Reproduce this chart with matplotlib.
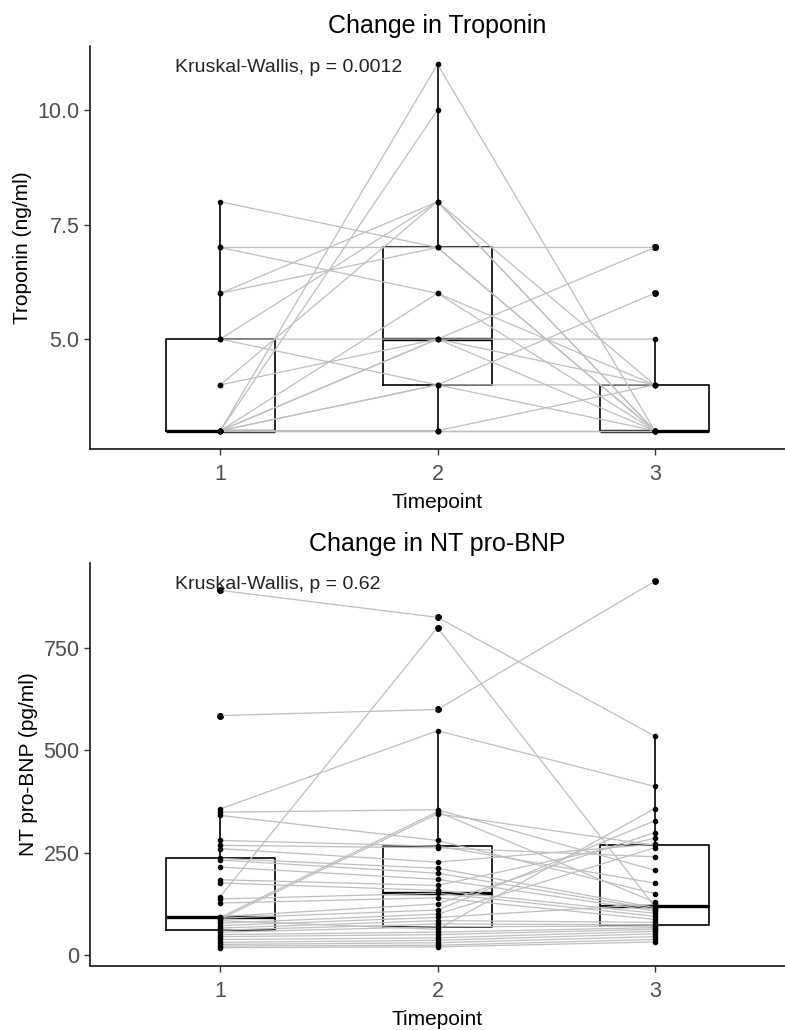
import numpy as np
import matplotlib
matplotlib.use("Agg")
import matplotlib.pyplot as plt

plt.rcParams['font.family'] = ['Liberation Sans', 'DejaVu Sans']

timepoints = [1, 2, 3]
tick_labels = ["1", "2", "3"]

# Troponin (ng/ml), one entry per subject
trop_t1 = [3, 3, 8, 7, 7, 6, 6, 5, 5, 4, 4, 3, 3, 3, 3, 3, 3, 3, 5, 3, 3]
trop_t2 = [11, 10, 7, 7, 6, 8, 7, 4, 8, 5, 8, 5, 6, 4, 3, 5, 4, 3, 5, 3, 3]
trop_t3 = [3, np.nan, 3, 7, 4, 4, 3, 6, 3, 5, 3, 7, 3, 4, 3, 3, 3, 4, 4, 3, 3]

# NT pro-BNP (pg/ml), one entry per subject
bnp_t1 = [891, 585, 143, 357, 349, 341, 92, 88, 280, 268, 260, 236, 232, 215, 184, 176, 137, 127, 94,
          90, 84, 78, 72, 66, 61, 56, 50, 45, 38, 31, 26, 22, 18]
bnp_t2 = [825, 600, 800, 548, 355, 280, 350, 345, 266, 262, 227, 212, 200, 185, 170, 158, 151, 140, 125,
          110, 63, 100, 92, 84, 76, 69, 56, 50, 42, 36, 30, 24, 20]
bnp_t3 = [535, 913, 119, 412, 207, 150, 129, 268, 176, 240, 271, 116, 112, 108, 285, 102, 95, 87, 299,
          328, 358, 262, 124, 80, 74, 71, 67, 63, 58, 52, 45, 38, 32]

panels = [
    dict(title="Change in Troponin", ylabel="Troponin (ng/ml)", data=[trop_t1, trop_t2, trop_t3],
         yticks=[5.0, 7.5, 10.0], fmt="{:.1f}", label="Kruskal-Wallis, p = 0.0012"),
    dict(title="Change in NT pro-BNP", ylabel="NT pro-BNP (pg/ml)", data=[bnp_t1, bnp_t2, bnp_t3],
         yticks=[0, 250, 500, 750], fmt="{:.0f}", label="Kruskal-Wallis, p = 0.62"),
]

W, H = 785, 1030
fig = plt.figure(figsize=(W / 100, H / 100), dpi=100)
rects = [
    [90 / W, 1 - 449 / H, (W - 90) / W, 403 / H],
    [90 / W, 1 - 966 / H, (W - 90) / W, 403 / H],
]

for rect, p in zip(rects, panels):
    ax = fig.add_axes(rect)
    arr = np.array(p["data"], dtype=float)  # shape (3, n)
    groups = [row[~np.isnan(row)] for row in arr]
    ax.boxplot(groups, positions=timepoints, widths=0.5, whis=1.5, showcaps=False,
               patch_artist=False,
               boxprops=dict(color="black", linewidth=1.2),
               whiskerprops=dict(color="black", linewidth=1.2),
               medianprops=dict(color="black", linewidth=2.4),
               flierprops=dict(marker="o", markerfacecolor="black", markeredgecolor="black",
                               markersize=4.0, linestyle="none"),
               zorder=1)
    # subject lines
    for j in range(arr.shape[1]):
        ax.plot(timepoints, arr[:, j], color="#BEBEBE", linewidth=0.9, zorder=2)
    # points
    for i, t in enumerate(timepoints):
        ax.plot(np.full(len(groups[i]), t), groups[i], "o", color="black", markersize=3.0,
                linestyle="none", zorder=3)

    lo = np.nanmin(arr)
    hi = np.nanmax(arr)
    pad = 0.05 * (hi - lo)
    ax.set_ylim(lo - pad, hi + pad)
    ax.set_xlim(0.4, 3.6)
    ax.set_xticks(timepoints)
    ax.set_xticklabels(tick_labels)
    ax.set_yticks(p["yticks"])
    ax.set_yticklabels([p["fmt"].format(v) for v in p["yticks"]])
    for s in ["top", "right"]:
        ax.spines[s].set_visible(False)
    for s in ["left", "bottom"]:
        ax.spines[s].set_linewidth(1.1)
    ax.tick_params(axis="both", length=4.5, width=1.0, color="#333333", labelsize=15.5,
                   labelcolor="#4D4D4D")
    ax.tick_params(axis="x", pad=6)
    ax.tick_params(axis="y", pad=3)
    ax.set_xlabel("Timepoint", fontsize=15, labelpad=6)
    ax.set_ylabel(p["ylabel"], fontsize=15, labelpad=4)
    ax.set_title(p["title"], fontsize=18, pad=9)
    ax.annotate(p["label"], xy=(0.79, hi), xytext=(0, -2), textcoords="offset points",
                fontsize=14, ha="left", va="center", color="#222222", zorder=4)

fig.savefig("out.png", dpi=100)
